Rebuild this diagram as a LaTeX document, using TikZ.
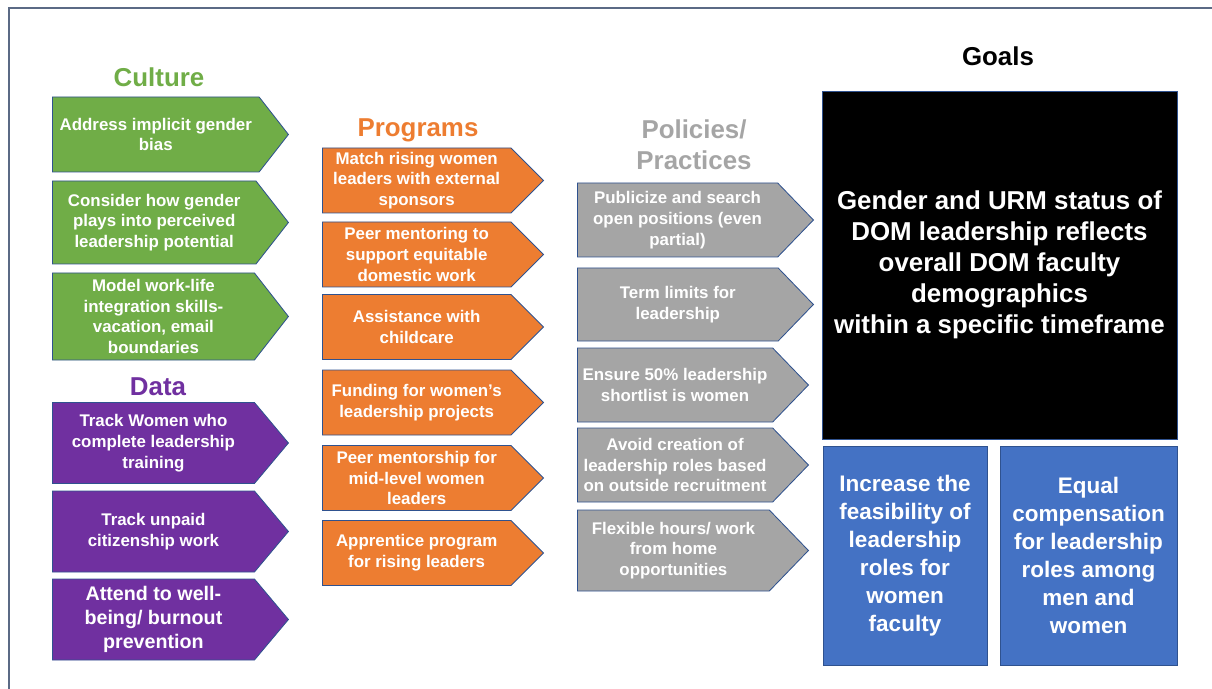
\documentclass[tikz,border=0pt]{standalone}
\usepackage{fontspec}
\setmainfont{Liberation Sans}
\usepackage{tikz}
\usetikzlibrary{positioning, shapes.symbols}
\usepackage{xcolor}
\definecolor{culturegreen}{HTML}{70AD47}
\definecolor{programorange}{HTML}{ED7D31}
\definecolor{policygray}{HTML}{A5A5A5}
\definecolor{datapurple}{HTML}{7030A0}
\definecolor{goalblue}{HTML}{4472C4}
\definecolor{edgeblue}{HTML}{2F528F}
\definecolor{framegray}{HTML}{5B6A85}
\newcommand{\pxu}{0.025cm}

\begin{document}
\begin{tikzpicture}[x=0.025cm, y=-0.025cm]
        \tikzstyle{heading} = [font=\fontsize{18.4}{22}\selectfont\bfseries, align=center]
        \tikzstyle{arrowbox} = [signal, signal to=east, draw=edgeblue, line width=0.6pt,
          text=white, align=center, anchor=west, inner sep=1pt, font=\fontsize{12}{14.8}\selectfont\bfseries]
        \tikzstyle{goalbox} = [rectangle, draw=edgeblue, line width=0.6pt, text=white, align=center]

        \useasboundingbox (0,0) rectangle (1212,689);
        \draw[framegray, line width=1pt] (9,689) -- (9,8) -- (1212,8);

        % culture
        \node[heading, text=culturegreen] (culture) at (159,77) {Culture};
        \foreach \y/\h/\txt [count=\i] in {134.5/75/{Address implicit gender\\bias},
            222.5/83/{Consider how gender\\plays into perceived\\leadership potential},
            316.5/87/{Model work-life\\integration skills-\\vacation, email\\boundaries}}
          \node[arrowbox, fill=culturegreen, minimum width=236*\pxu, minimum height=\h*\pxu,
            signal pointer angle=104] (c\i) at (52,\y) {\txt};

        % data
        \node[heading, text=datapurple] (data) at (158,387) {Data};
        \foreach \y/\txt [count=\i] in {443/{Track Women who\\complete leadership\\training},
            531.5/{Track unpaid\\citizenship work}}
          \node[arrowbox, fill=datapurple, minimum width=236*\pxu, minimum height=81*\pxu,
            signal pointer angle=100] (d\i) at (52,\y) {\txt};
        \node[arrowbox, fill=datapurple, minimum width=236*\pxu, minimum height=81*\pxu,
          signal pointer angle=100, font=\fontsize{14}{17}\selectfont\bfseries] (d3) at (52,619.5)
          {Attend to well-\\being/ burnout\\prevention};

        % programs
        \node[heading, text=programorange] (programs) at (418,130) {Programs};
        \foreach \y/\txt [count=\i] in {180.5/{Match rising women\\leaders with external\\sponsors},
            254.5/{Peer mentoring to\\support equitable\\domestic work},
            327/{Assistance with\\childcare},
            402.5/{Funding for women’s\\leadership projects},
            478/{Peer mentorship for\\mid-level women\\leaders},
            553/{Apprentice program\\for rising leaders}}
          \node[arrowbox, fill=programorange, minimum width=221*\pxu, minimum height=65*\pxu,
            signal pointer angle=90] (p\i) at (322,\y) {\txt};

        % policies / practices
        \node[heading, text=policygray] (policies) at (694,144.5) {Policies/\\Practices};
        \foreach \y/\w/\h/\txt [count=\i] in {220/236/74/{Publicize and search\\open positions (even\\partial)},
            304.5/236/73/{Term limits for\\leadership},
            385/231/74/{Ensure 50\% leadership\\shortlist is women},
            465/231/74/{Avoid creation of\\leadership roles based\\on outside recruitment},
            550.5/231/81/{Flexible hours/ work\\from home\\opportunities}}
          \node[arrowbox, fill=policygray, minimum width=\w*\pxu, minimum height=\h*\pxu,
            signal pointer angle=92] (q\i) at (577,\y) {\txt};

        % goals
        \node[heading] (goals) at (998,56) {Goals};
        \node[goalbox, fill=black, minimum width=355*\pxu, minimum height=348*\pxu,
          font=\fontsize{18.4}{22}\selectfont\bfseries] (main) at (999.5,265)
          {Gender and URM status of\\DOM leadership reflects\\overall DOM faculty\\demographics\\within a specific timeframe};
        \node[goalbox, fill=goalblue, minimum width=164*\pxu, minimum height=219*\pxu,
          font=\fontsize{16}{20}\selectfont\bfseries] (feasible) at (905,555.5)
          {Increase the\\feasibility of\\leadership\\roles for\\women\\faculty};
        \node[goalbox, fill=goalblue, minimum width=177*\pxu, minimum height=219*\pxu,
          font=\fontsize{16}{20}\selectfont\bfseries] (equalpay) at (1088.5,555.5)
          {Equal\\compensation\\for leadership\\roles among\\men and\\women};
\end{tikzpicture}
\end{document}
